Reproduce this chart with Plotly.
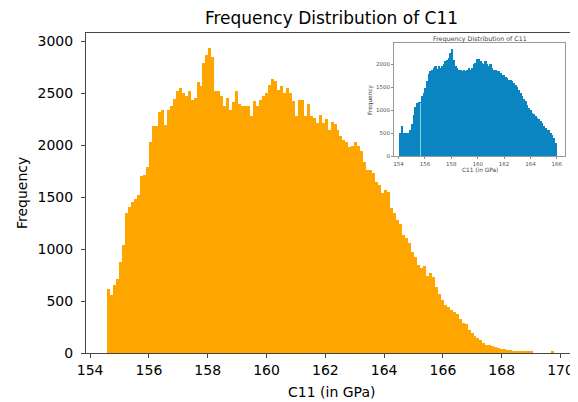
import numpy as np
import plotly.graph_objects as go

# ---- main histogram (orange): counts per bin ----
main_bin_start = 154.58
main_bin_width = 0.1013
main_counts = [
    611, 556, 655, 712, 877, 1035, 1343, 1402, 1455, 1485,
    1515, 1705, 1712, 1792, 2033, 2185, 2185, 2320, 2340, 2190,
    2338, 2375, 2440, 2515, 2547, 2500, 2470, 2515, 2436, 2451,
    2602, 2563, 2790, 2865, 2930, 2850, 2515, 2520, 2467, 2371,
    2451, 2338, 2410, 2515, 2397, 2378, 2371, 2378, 2280, 2419,
    2378, 2436, 2473, 2499, 2579, 2634, 2611, 2531, 2563, 2499,
    2547, 2499, 2419, 2280, 2436, 2436, 2280, 2397, 2280, 2258,
    2210, 2290, 2210, 2248, 2146, 2220, 2200, 2146, 2083, 2048,
    2033, 1985, 1990, 2033, 1990, 1946, 1840, 1760, 1760, 1728,
    1648, 1616, 1542, 1568, 1552, 1391, 1343, 1279, 1240, 1135,
    1102, 1054, 974, 925, 845, 813, 835, 739, 771, 732,
    636, 572, 514, 459, 443, 418, 395, 379, 331, 290,
    283, 225, 193, 161, 145, 129, 97, 81, 74, 64,
    58, 49, 39, 35, 32, 26, 23, 19, 19, 19,
    19, 19, 16, 0, 0, 0, 0, 0, 0, 20,
]

# ---- inset histogram (blue) ----
inset_bin_start = 154.11
inset_bin_width = 0.1263
inset_counts = [
    500, 640, 490, 495, 490, 500, 560, 700, 890, 1070,
    1160, 1170, 1180, 1300, 1370, 1480, 1640, 1780, 1840, 1880,
    1910, 1950, 1890, 1950, 1920, 1960, 2010, 2060, 2090, 2130,
    2240, 2320, 2080, 1960, 1920, 1880, 1880, 1840, 1880, 1840,
    1870, 1910, 1870, 1920, 1990, 2020, 2100, 2110, 2060, 2020,
    2000, 2060, 1990, 1950, 2000, 1920, 1880, 1880, 1840, 1840,
    1800, 1770, 1750, 1720, 1700, 1660, 1660, 1620, 1590, 1550,
    1500, 1440, 1370, 1300, 1240, 1190, 1110, 1040, 1000, 930,
    900, 860, 820, 790, 750, 710, 640, 610, 570, 550,
    500, 460, 390, 280,
]
# light streak seen in the inset
streak_x = [155.68]
streak_y = [1160]

main_ticks = [154, 156, 158, 160, 162, 164, 166, 168, 170]
main_yticks = [0, 500, 1000, 1500, 2000, 2500, 3000]
inset_ticks = [154, 156, 158, 160, 162, 164, 166]
inset_yticks = [0, 500, 1000, 1500, 2000]

main_edges = main_bin_start + main_bin_width * np.arange(len(main_counts) + 1)
main_centers = (main_edges[:-1] + main_edges[1:]) / 2
inset_edges = inset_bin_start + inset_bin_width * np.arange(len(inset_counts) + 1)
inset_centers = (inset_edges[:-1] + inset_edges[1:]) / 2

FONT = "DejaVu Sans"
OFF = 8  # page body margin
W, H = 578 - OFF, 402 - OFF
PL, PT, PR, PB = 86, 33, 577, 353  # plot area in window pixels
PW, PH = PR - PL, PB - PT

fig = go.Figure()
fig.add_trace(go.Bar(x=main_centers, y=main_counts, width=main_bin_width,
                     marker=dict(color="#FFA500", line=dict(width=0)),
                     showlegend=False, xaxis="x", yaxis="y"))
fig.add_trace(go.Bar(x=inset_centers, y=inset_counts, width=inset_bin_width,
                     marker=dict(color="#0a85c2", line=dict(width=0)),
                     showlegend=False, xaxis="x2", yaxis="y2"))
fig.add_trace(go.Bar(x=streak_x, y=streak_y, width=0.05,
                     marker=dict(color="#86d4ea", line=dict(width=0)),
                     showlegend=False, xaxis="x2", yaxis="y2"))

axis_common = dict(showgrid=False, zeroline=False, showline=True, mirror=True,
                   ticks="outside", automargin=False)

def px_x(x):
    return (x - PL) / PW

def px_y(y):
    return (PB - y) / PH

ix0, ix1 = px_x(394), px_x(565.3)
iy0, iy1 = px_y(156), px_y(43.3)

fig.update_layout(
    width=W, height=H,
    margin=dict(l=PL - OFF, r=578 - PR, t=PT - OFF, b=402 - PB, pad=0, autoexpand=False),
    paper_bgcolor="white", plot_bgcolor="white",
    bargap=0, barmode="overlay",
    font=dict(family=FONT, color="black"),
    title=dict(text="Frequency Distribution of C11", x=0.5, xref="paper",
               y=1 - (18 - OFF) / H, yref="container", yanchor="middle",
               font=dict(size=17, family=FONT, color="black")),
    xaxis=dict(domain=[0, 1], range=[153.86, 170.56], tickvals=main_ticks,
               ticklen=4, tickcolor="#444", linecolor="#444", linewidth=1,
               tickfont=dict(size=14), anchor="y", **axis_common),
    yaxis=dict(domain=[0, 1], range=[0, 3077], tickvals=main_yticks,
               ticklen=4, tickcolor="#444", linecolor="#444", linewidth=1,
               tickfont=dict(size=14), anchor="x", ticklabelstandoff=5,
               **axis_common),
    xaxis2=dict(domain=[ix0, ix1], range=[153.66, 166.64], tickvals=inset_ticks,
                ticklen=2, tickcolor="#888", linecolor="#999", linewidth=1,
                tickfont=dict(size=5.5, color="#555"), anchor="y2",
                **axis_common),
    yaxis2=dict(domain=[iy0, iy1], range=[0, 2458], tickvals=inset_yticks,
                ticklen=2, tickcolor="#888", linecolor="#999", linewidth=1,
                tickfont=dict(size=5.5, color="#555"), anchor="x2",
                **axis_common),
    annotations=[
        dict(text="C11 (in GPa)", xref="paper", yref="paper",
             x=0.5, y=px_y(391.5), xanchor="center", yanchor="middle",
             showarrow=False, font=dict(size=14, color="black", family=FONT)),
        dict(text="Frequency", xref="paper", yref="paper",
             x=px_x(22), y=0.5, xanchor="center", yanchor="middle",
             showarrow=False, textangle=-90,
             font=dict(size=14, color="black", family=FONT)),
        dict(text="Frequency Distribution of C11", xref="paper", yref="paper",
             x=(ix0 + ix1) / 2, y=px_y(39), xanchor="center",
             yanchor="middle", showarrow=False,
             font=dict(size=6.3, color="#444", family=FONT)),
        dict(text="C11 (in GPa)", xref="paper", yref="paper",
             x=(ix0 + ix1) / 2, y=px_y(170), xanchor="center",
             yanchor="middle", showarrow=False,
             font=dict(size=5.8, color="#444", family=FONT)),
        dict(text="Frequency", xref="paper", yref="paper",
             x=px_x(370), y=px_y(100), xanchor="center",
             yanchor="middle", showarrow=False, textangle=-90,
             font=dict(size=5.8, color="#444", family=FONT)),
    ],
)

fig.write_html("out.html")
